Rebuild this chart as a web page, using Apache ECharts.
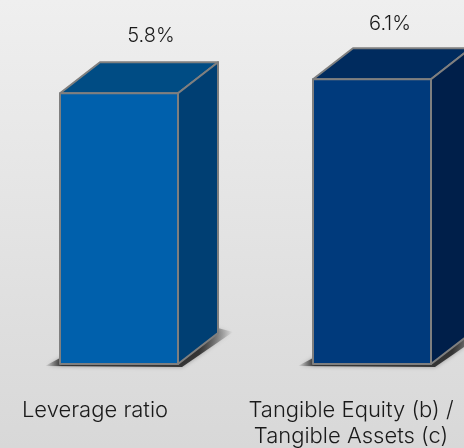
<!DOCTYPE html>
<html><head><meta charset="utf-8">
<style>html,body{margin:0;padding:0;background:#e4e4e4}#c{width:464px;height:448px}</style>
<script src="https://cdn.jsdelivr.net/npm/echarts@6/dist/echarts.min.js"></script>
</head><body><div id="c"></div>
<script>
const categories = ['Leverage ratio', 'Tangible Equity (b) /\nTangible Assets (c)'];
const values = [5.8, 6.1];
const frontColors = ['#0060AC', '#003A7C'];
const topColors = ['#004C84', '#002B5E'];
const sideColors = ['#003F73', '#001F4A'];
const frontShift = [24, 21];
const labelShift = [56, 39];
const labelGap = [26, 24];

const FONT = 'Inter, Lato, sans-serif';
const W = 118, DX = 40, DY = 31, EDGE = '#7f7f7f';
const chart = echarts.init(document.getElementById('c'), null, {renderer: 'canvas'});

function renderBox(params, api) {
  const i = api.value(0);
  const val = api.value(1);
  const base = api.coord([i, 0]);
  const top = api.coord([i, val]);
  const x0 = base[0] + frontShift[i] - W / 2, x1 = x0 + W;
  const yb = base[1], yt = top[1];
  const border = {stroke: EDGE, lineWidth: 2, lineJoin: 'round'};
  const shade = {type: 'linear', x: 0, y: 0, x2: 1, y2: 0, colorStops: [
    {offset: 0, color: 'rgba(40,40,40,0)'}, {offset: 0.09, color: 'rgba(40,40,40,0.9)'},
    {offset: 0.82, color: 'rgba(40,40,40,0.9)'}, {offset: 1, color: 'rgba(40,40,40,0)'}]};
  return {type: 'group', children: [
    {type: 'polygon', shape: {points: [[x0 - 15, yb + 2], [x1 + 4, yb + 3], [x1 + DX + 15, yb - DY - 1], [x1 + DX - 4, yb - DY - 6], [x0, yb - 6]]},
      style: {fill: shade, shadowBlur: 4, shadowColor: 'rgba(0,0,0,0.35)'}},
    {type: 'polygon', shape: {points: [[x0, yt], [x1, yt], [x1 + DX, yt - DY], [x0 + DX, yt - DY]]},
      style: Object.assign({fill: topColors[i]}, border)},
    {type: 'polygon', shape: {points: [[x1, yt], [x1 + DX, yt - DY], [x1 + DX, yb - DY], [x1, yb]]},
      style: Object.assign({fill: sideColors[i]}, border)},
    {type: 'rect', shape: {x: x0, y: yt, width: W, height: yb - yt},
      style: Object.assign({fill: frontColors[i]}, border)},
    {type: 'text', style: {text: val.toFixed(1) + '%', x: base[0] + labelShift[i], y: yt - DY - labelGap[i],
      align: 'center', verticalAlign: 'middle', fill: '#1a1a1a', font: '300 20px ' + FONT}}
  ]};
}

chart.setOption({
  animation: false,
  backgroundColor: {type: 'linear', x: 0, y: 0, x2: 0, y2: 1,
    colorStops: [{offset: 0, color: '#efefef'}, {offset: 1, color: '#d8d8d8'}]},
  grid: {left: -33, width: 512, top: 18, bottom: 84, containLabel: false, outerBoundsMode: 'none'},
  xAxis: {type: 'category', data: categories,
    axisLine: {show: false}, axisTick: {show: false},
    axisLabel: {interval: 0, margin: 33, color: '#1a1a1a', fontFamily: FONT, fontWeight: 300, fontSize: 22, lineHeight: 26}},
  yAxis: {type: 'value', min: 0, max: 7.41, show: false, splitLine: {show: false}},
  series: [{type: 'custom', renderItem: renderBox, clip: false,
    encode: {x: 0, y: 1}, data: values.map((v, i) => [i, v])}]
});
</script></body></html>
